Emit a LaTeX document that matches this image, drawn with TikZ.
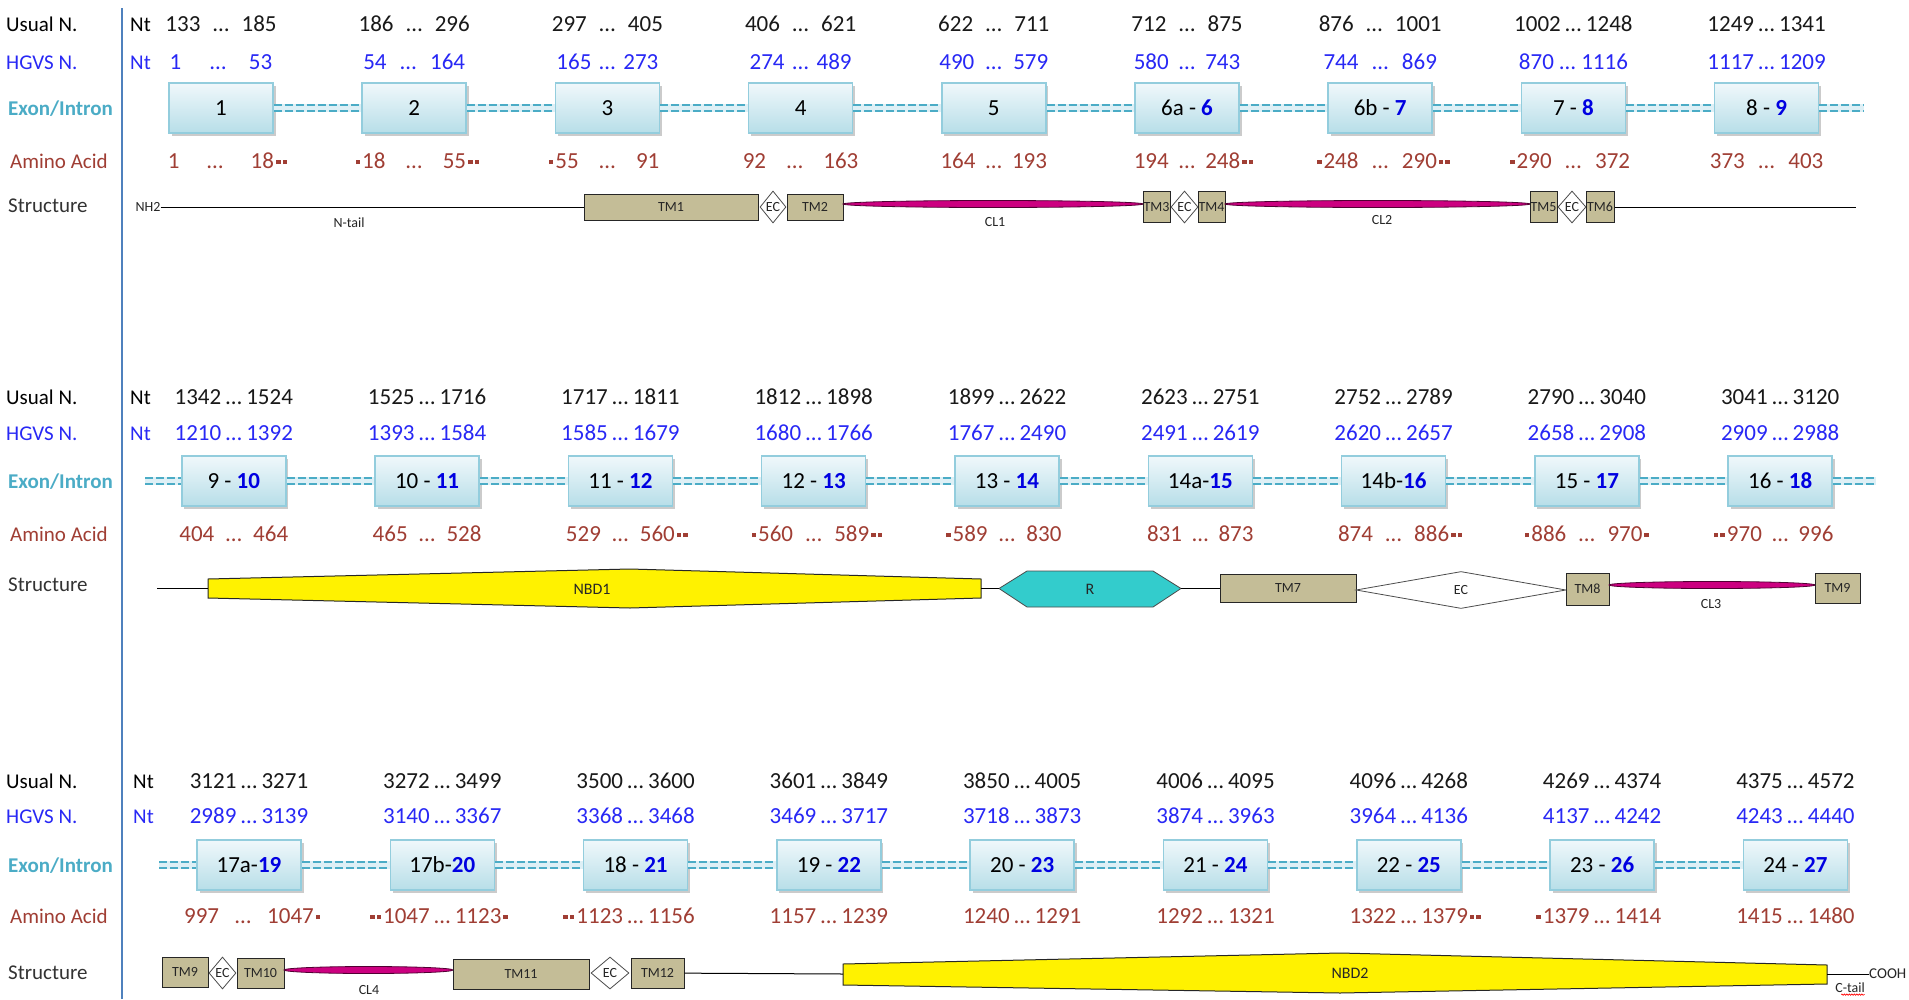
\documentclass[tikz,border=0pt]{standalone}
\usepackage{fontspec}
\setmainfont{Carlito}
\usetikzlibrary{shapes.geometric,shadows,decorations.pathmorphing}
\definecolor{hgvs}{RGB}{40,40,245}
\definecolor{bblue}{RGB}{0,0,225}
\definecolor{exc}{RGB}{75,172,198}
\definecolor{aac}{RGB}{160,62,52}
\definecolor{tanc}{RGB}{196,189,151}
\definecolor{clm}{RGB}{204,0,128}
\definecolor{rc}{RGB}{51,204,204}
\definecolor{vline}{RGB}{79,129,189}
\definecolor{boxtop}{RGB}{240,248,251}
\definecolor{boxbot}{RGB}{183,222,232}
\definecolor{boxdraw}{RGB}{147,205,221}
\definecolor{band}{RGB}{222,240,246}
\newcommand\rngx[3][0.3em]{#2\hspace{#1}…\hspace{#1}#3}
\newcommand\sqmark{\raisebox{4.5pt}{\rule{4.5pt}{4.5pt}}}
\newcommand\trsq{\rlap{\kern2pt\sqmark}}
\newcommand\trsqq{\rlap{\kern2pt\sqmark\kern2pt\sqmark}}
\newcommand\ldsq{\llap{\sqmark\kern2pt}}
\newcommand\ldsqq{\llap{\sqmark\kern2pt\sqmark\kern2pt}}
\newcommand\bnum[1]{\textcolor{bblue}{\textbf{#1}}}
\begin{document}
\begin{tikzpicture}[x=1pt,y=-1pt,
  lbl/.style={anchor=west,inner sep=0pt,font=\fontsize{21}{24}\selectfont,text height=14pt,text depth=0pt},
  num/.style={inner sep=0pt,font=\fontsize{23}{26}\selectfont,text height=15pt,text depth=0pt},
  exonbox/.style={draw=boxdraw,line width=1.5pt,top color=boxtop,bottom color=boxbot,
    minimum width=104pt,minimum height=50pt,inner sep=0pt,font=\fontsize{23}{26}\selectfont,
    drop shadow={shadow xshift=2.5pt,shadow yshift=-3pt,fill=black!40,opacity=0.5}},
  intron/.style={draw=exc,line width=1.8pt,double=band,double distance=4pt,dash pattern=on 8pt off 3pt,
    preaction={draw=band,line width=7.6pt,solid}},
  sm/.style={inner sep=0pt,font=\fontsize{14}{16}\selectfont,text=black!85},
  big/.style={inner sep=0pt,font=\fontsize{16}{18}\selectfont,text=black!85},
  tm/.style={draw=black!85,line width=1pt,fill=tanc,inner sep=0pt},
  ec/.style={diamond,draw=black!70,line width=0.8pt,fill=white,inner sep=0pt},
  cl/.style={ellipse,draw=black!60!clm,line width=0.8pt,fill=clm,inner sep=0pt},
  conn/.style={draw=black,line width=1pt},
  every label/.style={inner sep=0pt,font=\fontsize{14}{16}\selectfont,text=black!85}]
\useasboundingbox (0,0) rectangle (1909,999);
\fill[white] (0,0) rectangle (1909,999);
\draw[draw=vline,line width=1.6pt] (122,8) -- (122,999);

% row labels
\foreach \b/\yu/\yh/\ye/\ya/\ys/\xn in {1/24/62/108/161/205/140, 2/397/433/481/534/584/140, 3/781/816/865/916/972/143}{
  \node[lbl] (lu\b) at (6,\yu) {Usual N.};
  \node[lbl,text=hgvs] (lh\b) at (6,\yh) {HGVS N.};
  \node[lbl,text=exc,font=\fontsize{21}{24}\selectfont\bfseries] (le\b) at (8,\ye) {Exon/Intron};
  \node[lbl,text=aac] (la\b) at (10,\ya) {Amino Acid};
  \node[lbl,text=black!80] (ls\b) at (8,\ys) {Structure};
  \node[lbl] (ntu\b) at (\xn-10,\yu) {Nt};
  \node[lbl,text=hgvs] (nth\b) at (\xn-10,\yh) {Nt};
}

% ---------- block 1 ----------
\foreach \i/\vU/\vH/\vE/\vA in {
 1/{\rngx[0.55em]{133}{185}}/{1\hspace{1.25em}…\hspace{1.0em}53}/{1}/{1\hspace{1.2em}…\hspace{1.2em}18\trsqq},
 2/{\rngx[0.55em]{186}{296}}/{\rngx[0.6em]{54}{164}}/{2}/{\ldsq\rngx[0.9em]{18}{55}\trsqq},
 3/{\rngx[0.55em]{297}{405}}/{\rngx[0.35em]{165}{273}}/{3}/{\ldsq\rngx[0.9em]{55}{91}},
 4/{\rngx[0.55em]{406}{621}}/{\rngx[0.35em]{274}{489}}/{4}/{\rngx[0.9em]{92}{163}},
 5/{\rngx[0.55em]{622}{711}}/{\rngx[0.5em]{490}{579}}/{5}/{\rngx[0.45em]{164}{193}},
 6/{\rngx[0.55em]{712}{875}}/{\rngx[0.45em]{580}{743}}/{6a - \bnum{6}}/{\rngx[0.45em]{194}{248}\trsqq},
 7/{\rngx[0.55em]{876}{1001}}/{\rngx[0.6em]{744}{869}}/{6b - \bnum{7}}/{\ldsq\rngx[0.6em]{248}{290}\trsqq},
 8/{\rngx[0.2em]{1002}{1248}}/{\rngx[0.25em]{870}{1116}}/{7 - \bnum{8}}/{\ldsq\rngx[0.6em]{290}{372}},
 9/{\rngx[0.2em]{1249}{1341}}/{\rngx[0.2em]{1117}{1209}}/{8 - \bnum{9}}/{\rngx[0.6em]{373}{403}}}{
  \pgfmathsetmacro\xx{221+(\i-1)*193.2}
  \node[num,text=black!90] (u1-\i) at (\xx,24) {\vU};
  \node[num,text=hgvs] (h1-\i) at (\xx,62) {\vH};
  \node[exonbox] (x1-\i) at (\xx,108) {\vE};
  \node[num,text=aac] (a1-\i) at (\xx,161) {\vA};
}
\coordinate (i1e) at (1864,108);
\foreach \i [evaluate=\i as \j using int(\i+1)] in {1,...,8} \draw[intron] (x1-\i) -- (x1-\j);
\draw[intron] (x1-9) -- (i1e);

% ---------- block 2 ----------
\foreach \i/\vU/\vH/\vE/\vA in {
 1/{\rngx[0.2em]{1342}{1524}}/{\rngx[0.2em]{1210}{1392}}/{9 - \bnum{10}}/{\rngx[0.5em]{404}{464}},
 2/{\rngx[0.2em]{1525}{1716}}/{\rngx[0.2em]{1393}{1584}}/{10 - \bnum{11}}/{\rngx[0.5em]{465}{528}},
 3/{\rngx[0.2em]{1717}{1811}}/{\rngx[0.2em]{1585}{1679}}/{11 - \bnum{12}}/{\rngx[0.5em]{529}{560}\trsqq},
 4/{\rngx[0.2em]{1812}{1898}}/{\rngx[0.2em]{1680}{1766}}/{12 - \bnum{13}}/{\ldsq\rngx[0.55em]{560}{589}\trsqq},
 5/{\rngx[0.2em]{1899}{2622}}/{\rngx[0.2em]{1767}{2490}}/{13 - \bnum{14}}/{\ldsq\rngx[0.5em]{589}{830}},
 6/{\rngx[0.2em]{2623}{2751}}/{\rngx[0.2em]{2491}{2619}}/{14a-\bnum{15}}/{\rngx[0.45em]{831}{873}},
 7/{\rngx[0.2em]{2752}{2789}}/{\rngx[0.2em]{2620}{2657}}/{14b-\bnum{16}}/{\rngx[0.55em]{874}{886}\trsqq},
 8/{\rngx[0.2em]{2790}{3040}}/{\rngx[0.2em]{2658}{2908}}/{15 - \bnum{17}}/{\ldsq\rngx[0.55em]{886}{970}\trsq},
 9/{\rngx[0.2em]{3041}{3120}}/{\rngx[0.2em]{2909}{2988}}/{16 - \bnum{18}}/{\ldsqq\rngx[0.45em]{970}{996}}}{
  \pgfmathsetmacro\xx{233.8+(\i-1)*193.3}
  \node[num,text=black!90] (u2-\i) at (\xx,397) {\vU};
  \node[num,text=hgvs] (h2-\i) at (\xx,433) {\vH};
  \node[exonbox] (x2-\i) at (\xx,481) {\vE};
  \node[num,text=aac] (a2-\i) at (\xx,534) {\vA};
}
\coordinate (i2s) at (145,481);
\coordinate (i2e) at (1876,481);
\draw[intron] (i2s) -- (x2-1);
\foreach \i [evaluate=\i as \j using int(\i+1)] in {1,...,8} \draw[intron] (x2-\i) -- (x2-\j);
\draw[intron] (x2-9) -- (i2e);

% ---------- block 3 ----------
\foreach \i/\vU/\vH/\vE/\vA in {
 1/{\rngx[0.2em]{3121}{3271}}/{\rngx[0.2em]{2989}{3139}}/{17a-\bnum{19}}/{\rngx[0.7em]{997}{1047}\trsq},
 2/{\rngx[0.2em]{3272}{3499}}/{\rngx[0.2em]{3140}{3367}}/{17b-\bnum{20}}/{\ldsqq\rngx[0.2em]{1047}{1123}\trsq},
 3/{\rngx[0.2em]{3500}{3600}}/{\rngx[0.2em]{3368}{3468}}/{18 - \bnum{21}}/{\ldsqq\rngx[0.2em]{1123}{1156}},
 4/{\rngx[0.2em]{3601}{3849}}/{\rngx[0.2em]{3469}{3717}}/{19 - \bnum{22}}/{\rngx[0.2em]{1157}{1239}},
 5/{\rngx[0.2em]{3850}{4005}}/{\rngx[0.2em]{3718}{3873}}/{20 - \bnum{23}}/{\rngx[0.2em]{1240}{1291}},
 6/{\rngx[0.2em]{4006}{4095}}/{\rngx[0.2em]{3874}{3963}}/{21 - \bnum{24}}/{\rngx[0.2em]{1292}{1321}},
 7/{\rngx[0.2em]{4096}{4268}}/{\rngx[0.2em]{3964}{4136}}/{22 - \bnum{25}}/{\rngx[0.2em]{1322}{1379}\trsqq},
 8/{\rngx[0.2em]{4269}{4374}}/{\rngx[0.2em]{4137}{4242}}/{23 - \bnum{26}}/{\ldsq\rngx[0.2em]{1379}{1414}},
 9/{\rngx[0.2em]{4375}{4572}}/{\rngx[0.2em]{4243}{4440}}/{24 - \bnum{27}}/{\rngx[0.2em]{1415}{1480}}}{
  \pgfmathsetmacro\xx{249+(\i-1)*193.3}
  \node[num,text=black!90] (u3-\i) at (\xx,781) {\vU};
  \node[num,text=hgvs] (h3-\i) at (\xx,816) {\vH};
  \node[exonbox] (x3-\i) at (\xx,865) {\vE};
  \node[num,text=aac] (a3-\i) at (\xx,916) {\vA};
}
\coordinate (i3s) at (159,865);
\draw[intron] (i3s) -- (x3-1);
\foreach \i [evaluate=\i as \j using int(\i+1)] in {1,...,8} \draw[intron] (x3-\i) -- (x3-\j);

% ---------- structure 1 ----------
\node[sm] (nh2) at (148,207) {NH2};
\node[tm,minimum width=174pt,minimum height=26pt,label=center:TM1] (tm1) at (671,207) {};
\node[ec,minimum width=26pt,minimum height=32pt,label=center:EC] (ec1) at (773,207) {};
\node[tm,minimum width=56pt,minimum height=26pt,label=center:TM2] (tm2) at (815,207) {};
\node[cl,minimum width=300pt,minimum height=7pt] (cl1) at (993,204) {};
\node[tm,minimum width=27pt,minimum height=31pt,label=center:TM3] (tm3) at (1156.5,207) {};
\node[ec,minimum width=27pt,minimum height=32pt,label=center:EC] (ec2) at (1184.5,207) {};
\node[tm,minimum width=27pt,minimum height=31pt,label=center:TM4] (tm4) at (1211.5,207) {};
\node[cl,minimum width=305pt,minimum height=7pt] (cl2) at (1377.5,204) {};
\node[tm,minimum width=27pt,minimum height=31pt,label=center:TM5] (tm5) at (1543.5,207) {};
\node[ec,minimum width=28pt,minimum height=32pt,label=center:EC] (ec3) at (1572,207) {};
\node[tm,minimum width=28pt,minimum height=31pt,label=center:TM6] (tm6) at (1600,207) {};
\coordinate (s1e) at (1856,207);
\draw[conn] (nh2) -- (tm1);
\draw[conn] (tm6) -- (s1e);
\node[sm] (ntail) at (349,223) {N-tail};
\node[sm] (cl1l) at (995,222) {CL1};
\node[sm] (cl2l) at (1382,220) {CL2};

% ---------- structure 2 ----------
\coordinate (s2s) at (157,588.5);
\coordinate (nbd1w) at (208,588.5);
\coordinate (nbd1e) at (981,588.5);
\draw[fill=yellow,draw=black!85,line width=1pt] (208,579) -- (630,569) -- (981,579) -- (981,598) -- (630,608) -- (208,598) -- cycle;
\node[big] (nbd1) at (592,589) {NBD1};
\draw[conn] (s2s) -- (nbd1w);
\coordinate (rw) at (999,588.5);
\coordinate (re) at (1181,588.5);
\draw[fill=rc,draw=black!70,line width=0.8pt] (999,588.5) -- (1027,571) -- (1153,571) -- (1181,588.5) -- (1153,607) -- (1027,607) -- cycle;
\node[big] (rlab) at (1090,589) {R};
\draw[conn] (nbd1e) -- (rw);
\node[tm,minimum width=136pt,minimum height=28pt,label=center:TM7] (tm7) at (1288,588.5) {};
\draw[conn] (re) -- (tm7);
\node[ec,minimum width=210pt,minimum height=37pt,label=center:EC] (ec4) at (1461,590) {};
\node[tm,minimum width=43pt,minimum height=32pt,label=center:TM8] (tm8) at (1587.5,589) {};
\node[cl,minimum width=206pt,minimum height=7pt] (cl3) at (1712,585) {};
\node[sm] (cl3l) at (1711,604) {CL3};
\node[tm,minimum width=45pt,minimum height=30pt,label=center:TM9] (tm9a) at (1837.5,588) {};

% ---------- structure 3 ----------
\node[tm,minimum width=46pt,minimum height=30pt,label=center:TM9] (tm9b) at (185,972) {};
\node[ec,minimum width=27pt,minimum height=32pt,label=center:EC] (ec5) at (222.5,973) {};
\node[tm,minimum width=47pt,minimum height=30pt,label=center:TM10] (tm10) at (260.5,973) {};
\node[cl,minimum width=169pt,minimum height=7pt] (cl4) at (368.5,970) {};
\node[sm] (cl4l) at (369,990) {CL4};
\node[tm,minimum width=136pt,minimum height=30pt,label=center:TM11] (tm11) at (521,974) {};
\node[ec,minimum width=38pt,minimum height=32pt,label=center:EC] (ec6) at (610,973) {};
\node[tm,minimum width=53pt,minimum height=30pt,label=center:TM12] (tm12) at (657.5,973) {};
\coordinate (nbd2w) at (843,974);
\coordinate (nbd2e) at (1827,974);
\draw[fill=yellow,draw=black!85,line width=1pt] (843,964) -- (1340,953) -- (1827,965) -- (1827,984) -- (1340,993) -- (843,985) -- cycle;
\node[big] (nbd2) at (1350,973) {NBD2};
\draw[conn] (tm12) -- (nbd2w);
\node[sm,anchor=west,font=\fontsize{15}{17}\selectfont] (cooh) at (1869,974) {COOH};
\draw[conn] (nbd2e) -- (cooh);
\node[sm] (ctail) at (1850,988) {C-tail};
\draw[red,line width=0.6pt,decorate,decoration={snake,amplitude=0.7pt,segment length=2.5pt}]
  ([xshift=6pt,yshift=-1.5pt]ctail.south west) -- ([yshift=-1.5pt]ctail.south east);
\end{tikzpicture}
\end{document}
